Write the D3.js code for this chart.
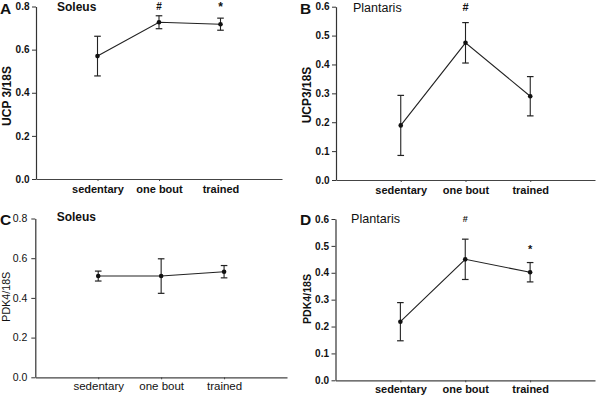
<!DOCTYPE html>
<html><head><meta charset="utf-8">
<script src="https://cdn.jsdelivr.net/npm/d3@7"></script>
<style>
body{margin:0;background:#fff;}
svg{display:block;}
text{font-family:"Liberation Sans",Arial,sans-serif;fill:#111;}
</style></head>
<body>
<svg id="chart" width="600" height="397"></svg>
<script>
const categories = ["sedentary", "one bout", "trained"];

const ucp3SoleusMean = [0.570, 0.727, 0.718];
const ucp3SoleusErr  = [0.092, 0.030, 0.028];
const ucp3SoleusSig  = ["", "#", "*"];

const ucp3PlantarisMean = [0.189, 0.475, 0.290];
const ucp3PlantarisErr  = [0.104, 0.070, 0.068];
const ucp3PlantarisSig  = ["", "#", ""];

const pdk4SoleusMean = [0.510, 0.510, 0.532];
const pdk4SoleusErr  = [0.025, 0.087, 0.031];
const pdk4SoleusSig  = ["", "", ""];

const pdk4PlantarisMean = [0.218, 0.450, 0.402];
const pdk4PlantarisErr  = [0.071, 0.075, 0.036];
const pdk4PlantarisSig  = ["", "#", "*"];

const ticksSoleus    = [0, 0.2, 0.4, 0.6, 0.8];
const ticksPlantaris = [0, 0.1, 0.2, 0.3, 0.4, 0.5, 0.6];

const svg = d3.select("#chart");

const panels = [
  {letter:"A", title:"Soleus", titleBold:true, ylabel:"UCP 3/18S", mean:ucp3SoleusMean, err:ucp3SoleusErr, sig:ucp3SoleusSig,
   ticks:ticksSoleus, bold:true, x0:36, x1:282, yTop:6.5, yBot:179, ox:0, oy:0,
   titleX:57, titleY:11, titleSize:12, letterY:14, ylabX:11, ylabY:96, ylabSize:12,
   sigY:[0, 0.785, 0.779], sigSize:[10,10,12], sigColor:["#111","#111","#111"], tickSize:10, xlabSize:11, xlabY:193.5},
  {letter:"B", title:"Plantaris", titleBold:false, ylabel:"UCP3/18S", mean:ucp3PlantarisMean, err:ucp3PlantarisErr, sig:ucp3PlantarisSig,
   ticks:ticksPlantaris, bold:true, x0:336, x1:595, yTop:6.7, yBot:180, ox:300, oy:0,
   titleX:353, titleY:11.5, titleSize:12.5, letterY:14, ylabX:310.5, ylabY:95, ylabSize:12,
   sigY:[0, 0.585, 0], sigSize:[10,11,13], sigColor:["#111","#111","#111"], tickSize:10, xlabSize:11, xlabY:194.5},
  {letter:"C", title:"Soleus", titleBold:true, ylabel:"PDK4/18S", mean:pdk4SoleusMean, err:pdk4SoleusErr, sig:pdk4SoleusSig,
   ticks:ticksSoleus, bold:false, x0:35.3, x1:287, yTop:218.5, yBot:377.3, ox:0, oy:200,
   titleX:56.7, titleY:221, titleSize:12, letterY:224.5, ylabX:9.5, ylabY:296.7, ylabSize:10.7,
   sigY:[0,0,0], sigSize:[10,10,10], sigColor:["#111","#111","#111"], tickSize:10.5, xlabSize:11.5, xlabY:390.3},
  {letter:"D", title:"Plantaris", titleBold:false, ylabel:"PDK4/18S", mean:pdk4PlantarisMean, err:pdk4PlantarisErr, sig:pdk4PlantarisSig,
   ticks:ticksPlantaris, bold:true, x0:335.5, x1:595, yTop:219, yBot:380.3, ox:300, oy:200,
   titleX:351, titleY:223, titleSize:12.6, letterY:225, ylabX:311, ylabY:299, ylabSize:10.6,
   sigY:[0, 0.59, 0.475], sigSize:[10,9,11], sigColor:["#111","#777","#111"], tickSize:10, xlabSize:11, xlabY:393.5}
];

panels.forEach(p => {
  const yMax = p.ticks[p.ticks.length-1];
  const x = d3.scaleLinear().domain([0, 4]).range([p.x0, p.x1]);
  const y = d3.scaleLinear().domain([0, yMax]).range([p.yBot, p.yTop]);
  const g = svg.append("g");
  const weight = p.bold ? "bold" : "normal";

  // Y axis
  const yAxis = g.append("g").attr("transform", `translate(${p.x0},0)`)
    .call(d3.axisLeft(y).tickValues(p.ticks).tickFormat(d3.format(".1f")).tickSize(4).tickSizeOuter(0).tickPadding(p.bold ? 2.5 : 4));
  yAxis.select(".domain").attr("stroke", "#333").attr("stroke-width", 1.2);
  yAxis.selectAll(".tick line").attr("stroke", "#333");
  yAxis.selectAll("text").style("font-size", p.tickSize + "px").style("font-weight", weight)
    .style("font-family", '"Liberation Sans", Arial, sans-serif').attr("fill", "#111");

  // X axis
  const xAxis = g.append("g").attr("transform", `translate(0,${p.yBot})`)
    .call(d3.axisBottom(x).tickValues([1, 2, 3]).tickFormat(d => categories[d-1]).tickSize(2).tickSizeOuter(0).tickPadding(p.xlabY - p.yBot - 10));
  xAxis.select(".domain").attr("stroke", "#444").attr("stroke-width", 1.2);
  xAxis.selectAll(".tick line").attr("stroke", "#444");
  xAxis.selectAll("text").style("font-size", p.xlabSize + "px").style("font-weight", weight)
    .style("font-family", '"Liberation Sans", Arial, sans-serif').attr("fill", "#111");

  // Line
  const pts = p.mean.map((m, i) => ({x: i + 1, m, e: p.err[i], s: p.sig[i], i}));
  g.append("path").datum(pts)
    .attr("d", d3.line().x(d => x(d.x)).y(d => y(d.m)))
    .attr("fill", "none").attr("stroke", "#222").attr("stroke-width", 1.1);

  // Error bars
  const capW = 3.3;
  const eb = g.selectAll(".eb").data(pts).enter().append("g");
  eb.append("line").attr("x1", d => x(d.x)).attr("x2", d => x(d.x))
    .attr("y1", d => y(d.m + d.e)).attr("y2", d => y(d.m - d.e)).attr("stroke", "#222").attr("stroke-width", 1.1);
  eb.append("line").attr("x1", d => x(d.x) - capW).attr("x2", d => x(d.x) + capW)
    .attr("y1", d => y(d.m + d.e)).attr("y2", d => y(d.m + d.e)).attr("stroke", "#222").attr("stroke-width", 1.2);
  eb.append("line").attr("x1", d => x(d.x) - capW).attr("x2", d => x(d.x) + capW)
    .attr("y1", d => y(d.m - d.e)).attr("y2", d => y(d.m - d.e)).attr("stroke", "#222").attr("stroke-width", 1.2);
  eb.append("circle").attr("cx", d => x(d.x)).attr("cy", d => y(d.m)).attr("r", 2.3).attr("fill", "#111");

  // Significance marks
  g.selectAll(".sig").data(pts.filter(d => d.s)).enter().append("text")
    .attr("x", d => x(d.x)).attr("y", d => y(p.sigY[d.i]))
    .attr("text-anchor", "middle").style("font-size", d => p.sigSize[d.i] + "px")
    .style("font-weight", "bold").attr("fill", d => p.sigColor[d.i]).text(d => d.s);

  // Panel letter
  g.append("text").attr("x", p.ox).attr("y", p.letterY).style("font-size", "15.5px").style("font-weight", "bold").text(p.letter);
  // Title
  g.append("text").attr("x", p.titleX).attr("y", p.titleY).style("font-size", p.titleSize + "px")
    .style("font-weight", p.titleBold ? "bold" : "normal").text(p.title);
  // Y label
  g.append("text").attr("transform", `translate(${p.ylabX},${p.ylabY}) rotate(-90)`)
    .attr("text-anchor", "middle").style("font-size", p.ylabSize + "px").style("font-weight", weight).text(p.ylabel);
});
</script>
</body></html>
